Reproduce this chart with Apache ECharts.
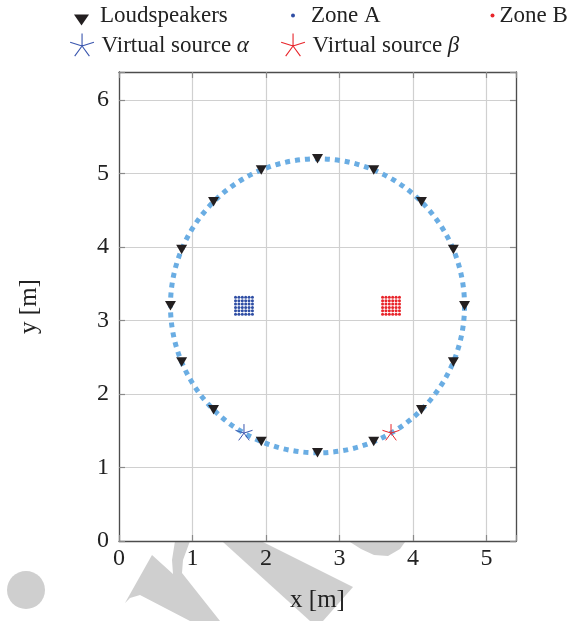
<!DOCTYPE html>
<html><head><meta charset="utf-8">
<script src="https://cdn.jsdelivr.net/npm/echarts@6/dist/echarts.min.js"></script>
<style>html,body{margin:0;padding:0;background:#fff}#c{width:577px;height:621px}</style>
</head><body><div id="c"></div>
<script>
// ---- data ----
const xTickValues = [0, 1, 2, 3, 4, 5];
const yTickValues = [0, 1, 2, 3, 4, 5, 6];
const speakerX = [2.7, 3.465, 4.114, 4.548, 4.7, 4.548, 4.114, 3.465, 2.7, 1.935, 1.286, 0.852, 0.7, 0.852, 1.286, 1.935];
const speakerY = [5.2, 5.048, 4.614, 3.965, 3.2, 2.435, 1.786, 1.352, 1.2, 1.352, 1.786, 2.435, 3.2, 3.965, 4.614, 5.048];
const zoneAX = [1.585, 1.631, 1.677, 1.723, 1.769, 1.815];
const zoneBX = [3.585, 3.631, 3.677, 3.723, 3.769, 3.815];
const zoneY = [3.085, 3.131, 3.177, 3.223, 3.269, 3.315];
const sourceAlpha = [1.7, 1.468];
const sourceBeta = [3.7, 1.468];
const arrayCircle = [2.7, 3.2, 2.0]; // centre x, centre y, radius

// ---- helpers ----
const FONT = 'Liberation Serif';
const TXT = '#222';
const starPath = 'path://M0 10 M20 10 M10 0 M10 20 M10 10 L10 0 M10 10 L19.51 6.91 M10 10 L15.88 18.09 M10 10 L4.12 18.09 M10 10 L0.49 6.91';
const triPath = 'path://M0 0 L12 0 L6 10.4 Z';
const grid2 = (xs, ys) => { const out = []; ys.forEach(y => xs.forEach(x => out.push([x, y]))); return out; };
const intLabel = v => (Math.abs(v - Math.round(v)) < 1e-9 ? String(Math.round(v)) : '');
const legendText = (pad, extra) => Object.assign({fontFamily: FONT, fontSize: 23, color: TXT, lineHeight: 24, padding: [0, 0, 0, pad]}, extra || {});
const rich = {i: {fontFamily: FONT, fontSize: 23, fontStyle: 'italic', color: TXT, lineHeight: 24}};

const frame = {show: true, onZero: false, lineStyle: {color: '#4d4d4d', width: 1.3}};
const ticks = {show: true, inside: true, length: 6, lineStyle: {color: '#8a8a8a', width: 1.2}};
const split = {show: true, lineStyle: {color: '#d0d0d0', width: 1.2}};
const labelStyle = {fontFamily: FONT, fontSize: 24, color: TXT};
const WM = '#cfcfcf';

const chart = echarts.init(document.getElementById('c'), null, {renderer: 'canvas'});
chart.setOption({
  animation: false,
  backgroundColor: '#fff',
  graphic: [
    {type: 'circle', shape: {cx: 26, cy: 590, r: 19}, style: {fill: WM}, z: -10, silent: true},
    {type: 'polygon', shape: {points: [[152,555],[173,574],[172,560],[175,541],[190,541],[183,560],[182,573],[220,621],[190,621],[140,595],[130,598],[125,603]]}, style: {fill: WM}, z: -10, silent: true},
    {type: 'polygon', shape: {points: [[223,542],[263,542],[353,587],[323,621],[310,621]]}, style: {fill: WM}, z: -10, silent: true},
    {type: 'polygon', shape: {points: [[350,542],[405,542],[400,549],[388,556],[374,555],[361,549]]}, style: {fill: WM}, z: -10, silent: true}
  ],
  grid: {left: 119, top: 72, width: 397, height: 469, show: true, backgroundColor: '#fff', borderWidth: 0},
  legend: [
    {left: 74, top: 3.5, padding: 0, itemWidth: 15, itemHeight: 20,
     data: [{name: 'Loudspeakers', icon: 'path://M0 -9 M0 0 L15 0 L7.5 11 Z'}],
     itemStyle: {color: '#231f20', borderWidth: 0, opacity: 1}, textStyle: legendText(6)},
    {left: 291, top: 3.5, padding: 0, itemWidth: 4, itemHeight: 4,
     data: [{name: 'Zone A', icon: 'circle'}],
     itemStyle: {color: '#2f4ea4', borderWidth: 0, opacity: 1}, textStyle: legendText(11)},
    {left: 490.5, top: 3.5, padding: 0, itemWidth: 4, itemHeight: 4,
     data: [{name: 'Zone B', icon: 'circle'}],
     itemStyle: {color: '#e8252b', borderWidth: 0, opacity: 1}, textStyle: legendText(0)},
    {left: 69, top: 33, padding: 0, itemWidth: 25, itemHeight: 25,
     data: [{name: 'Virtual source α', icon: starPath}],
     formatter: () => 'Virtual source {i|α}',
     itemStyle: {color: 'transparent', borderColor: '#3a56ae', borderWidth: 1.1, opacity: 1}, textStyle: legendText(2, {rich})},
    {left: 280, top: 33, padding: 0, itemWidth: 25, itemHeight: 25,
     data: [{name: 'Virtual source β', icon: starPath}],
     formatter: () => 'Virtual source {i|β}',
     itemStyle: {color: 'transparent', borderColor: '#e8252b', borderWidth: 1.1, opacity: 1}, textStyle: legendText(2, {rich})}
  ],
  xAxis: [
    {type: 'value', min: 0, max: 5.4, interval: 1, position: 'bottom',
     axisLine: frame, axisTick: ticks, splitLine: split,
     axisLabel: Object.assign({margin: 6, formatter: intLabel}, labelStyle),
     name: 'x [m]', nameLocation: 'middle', nameGap: 47,
     nameTextStyle: {fontFamily: FONT, fontSize: 25, color: TXT}},
    {type: 'value', min: 0, max: 5.4, interval: 1, position: 'top',
     axisLine: frame, axisTick: ticks, splitLine: {show: false}, axisLabel: {show: false}}
  ],
  yAxis: [
    {type: 'value', min: 0, max: 6.38, interval: 1, position: 'left',
     axisLine: frame, axisTick: ticks, splitLine: split,
     axisLabel: Object.assign({margin: 10, formatter: intLabel}, labelStyle),
     name: 'y [m]', nameLocation: 'middle', nameGap: 77,
     nameTextStyle: {fontFamily: FONT, fontSize: 25, color: TXT}},
    {type: 'value', min: 0, max: 6.38, interval: 1, position: 'right',
     axisLine: frame, axisTick: ticks, splitLine: {show: false}, axisLabel: {show: false}}
  ],
  series: [
    {type: 'custom', name: 'array', data: [arrayCircle], encode: {x: 0, y: 1}, z: 2, silent: true,
     renderItem: (params, api) => {
       const c = api.coord([api.value(0), api.value(1)]);
       const r = api.size([api.value(2), 0])[0];
       return {type: 'circle', shape: {cx: c[0], cy: c[1], r: r},
               style: {fill: null, stroke: '#6aade3', lineWidth: 5, lineDash: [5, 5], lineCap: 'butt'}};
     }},
    {type: 'scatter', name: 'Loudspeakers', data: speakerX.map((x, i) => [x, speakerY[i]]),
     symbol: triPath, symbolSize: [11, 9.5], itemStyle: {color: '#231f20', opacity: 1}, z: 4},
    {type: 'scatter', name: 'Zone A', data: grid2(zoneAX, zoneY), symbol: 'circle', symbolSize: 3,
     itemStyle: {color: '#2f4ea4', opacity: 1}, z: 3},
    {type: 'scatter', name: 'Zone B', data: grid2(zoneBX, zoneY), symbol: 'circle', symbolSize: 3,
     itemStyle: {color: '#e8252b', opacity: 1}, z: 3},
    {type: 'scatter', name: 'Virtual source α', data: [sourceAlpha], symbol: starPath, symbolSize: 18,
     itemStyle: {color: 'transparent', borderColor: '#3a56ae', borderWidth: 1, opacity: 1}, z: 5},
    {type: 'scatter', name: 'Virtual source β', data: [sourceBeta], symbol: starPath, symbolSize: 18,
     itemStyle: {color: 'transparent', borderColor: '#e8252b', borderWidth: 1, opacity: 1}, z: 5}
  ]
});
</script>
</body></html>
